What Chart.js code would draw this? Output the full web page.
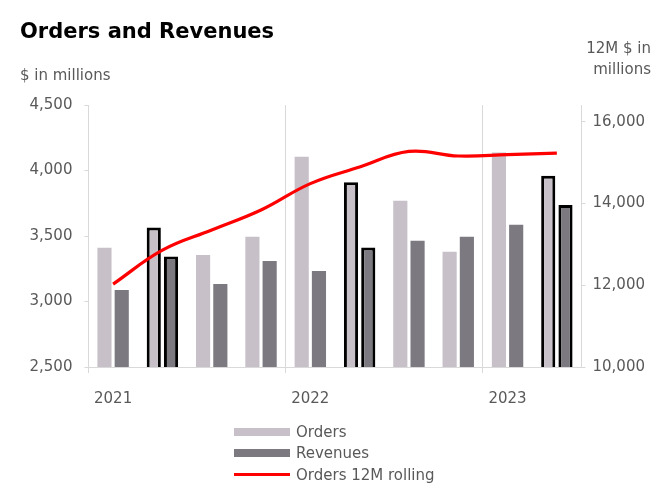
<!DOCTYPE html>
<html>
<head>
<meta charset="utf-8">
<script src="https://cdn.jsdelivr.net/npm/chart.js@4.4.1/dist/chart.umd.min.js"></script>
<style>
  html, body { margin: 0; padding: 0; background: #fff; }
  #wrap { position: relative; width: 669px; height: 492px; font-family: "DejaVu Sans", sans-serif; }
  #chart { position: absolute; left: 0; top: 0; }
  .txt { position: absolute; color: #595959; font-size: 15px; line-height: 18px; white-space: nowrap; }
  #title { position: absolute; left: 20px; top: 19px; font-size: 21px; line-height: 25px; font-weight: bold; color: #000; }
  #legend { position: absolute; left: 234px; top: 421px; }
  .lrow { display: flex; align-items: center; height: 21.5px; }
  .sw { width: 56px; height: 8px; margin-right: 6px; }
  .swl { width: 56px; height: 3px; margin-right: 6px; }
  .lt { color: #595959; font-size: 15px; line-height: 18px; }
</style>
</head>
<body>
<div id="wrap">
  <canvas id="chart" width="669" height="492"></canvas>
  <div id="title">Orders and Revenues</div>
  <div class="txt" style="left:20px; top:66px;">$ in millions</div>
  <div class="txt" style="right:18px; top:38px; text-align:right; line-height:21px;">12M $ in<br>millions</div>
  <div id="legend"></div>
</div>
<script>
// ---- data ----
const quarters = ['Q1 2021','Q2 2021','Q3 2021','Q4 2021','Q1 2022','Q2 2022','Q3 2022','Q4 2022','Q1 2023','Q2 2023'];
const tickLabels = ['2021','','','','2022','','','','2023',''];
const orders = [3410, 3565, 3355, 3495, 4105, 3910, 3770, 3380, 4138, 3959];
const revenues = [3087, 3343, 3133, 3310, 3233, 3412, 3463, 3494, 3586, 3737];
const orders12M = [12030, 12860, 13354, 13843, 14490, 14896, 15278, 15165, 15197, 15238];
const highlighted = [false, true, false, false, false, true, false, false, false, true];
const leftTicks = [2500, 3000, 3500, 4000, 4500];
const rightTicks = [10000, 12000, 14000, 16000];

const ordersColor = '#c7c0c8';
const revColor = '#7c7980';
const ctx = document.getElementById('chart').getContext('2d');

const borderW = highlighted.map(h => h ? 3 : 0);
const gridGrey = '#d9d9d9';
const textGrey = '#595959';
const tickFont = { family: '"DejaVu Sans", sans-serif', size: 15 };

const chart = new Chart(ctx, {
  type: 'bar',
  data: {
    labels: quarters,
    datasets: [
      { label: 'Orders', data: orders, backgroundColor: ordersColor, borderColor: '#000', borderWidth: borderW,
        yAxisID: 'y', order: 2, categoryPercentage: 0.7, barPercentage: 0.82 },
      { label: 'Revenues', data: revenues, backgroundColor: revColor, borderColor: '#000', borderWidth: borderW,
        yAxisID: 'y', order: 2, categoryPercentage: 0.7, barPercentage: 0.82 },
      { label: 'Orders 12M rolling', type: 'line', data: orders12M, borderColor: '#ff0000', backgroundColor: '#ff0000',
        borderWidth: 3.2, pointRadius: 0, tension: 0.4, yAxisID: 'y1', order: 0 }
    ]
  },
  options: {
    responsive: false,
    animation: false,
    layout: { padding: { top: 105, left: 17.5, right: 17, bottom: 67 } },
    plugins: { legend: { display: false }, tooltip: { enabled: false }, title: { display: false } },
    scales: {
      x: {
        grid: {
          offset: true,
          drawOnChartArea: true,
          color: c => (c.index % 4 === 0 && c.index < quarters.length) ? gridGrey : 'rgba(0,0,0,0)',
          tickLength: 6,
          lineWidth: 1
        },
        border: { color: gridGrey },
        ticks: {
          color: textGrey, font: tickFont, padding: 17, maxRotation: 0, autoSkip: false,
          callback: (v, i) => tickLabels[i]
        }
      },
      y: {
        position: 'left', min: leftTicks[0], max: leftTicks[leftTicks.length - 1],
        grid: { drawOnChartArea: false, color: gridGrey, tickLength: 4 },
        border: { color: gridGrey },
        ticks: { color: textGrey, font: tickFont, padding: 12 },
        afterBuildTicks: s => { s.ticks = leftTicks.map(v => ({ value: v })); }
      },
      y1: {
        position: 'right', min: 10000, max: 16414,
        grid: { drawOnChartArea: false, color: gridGrey, tickLength: 4 },
        border: { color: gridGrey },
        ticks: { color: textGrey, font: tickFont, padding: 7 },
        afterBuildTicks: s => { s.ticks = rightTicks.map(v => ({ value: v })); }
      }
    }
  }
});

// ---- legend built from chart datasets ----
const leg = document.getElementById('legend');
chart.data.datasets.forEach(ds => {
  const row = document.createElement('div');
  row.className = 'lrow';
  const sw = document.createElement('div');
  if (ds.type === 'line') {
    sw.className = 'swl';
    sw.style.background = ds.borderColor;
  } else {
    sw.className = 'sw';
    sw.style.background = ds.backgroundColor;
  }
  const t = document.createElement('span');
  t.className = 'lt';
  t.textContent = ds.label;
  row.appendChild(sw); row.appendChild(t);
  leg.appendChild(row);
});
</script>
</body>
</html>
